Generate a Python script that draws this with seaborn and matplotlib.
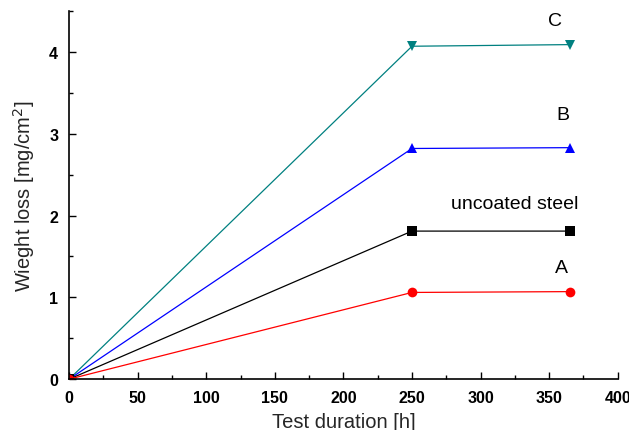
import matplotlib
matplotlib.use("Agg")
import matplotlib.pyplot as plt
import seaborn as sns
import pandas as pd
from matplotlib.ticker import MultipleLocator

hours = [0, 250, 365]
series_names = ["C", "B", "uncoated steel", "A"]
loss_C = [0.0, 4.07, 4.09]
loss_B = [0.0, 2.82, 2.83]
loss_uncoated = [0.0, 1.81, 1.81]
loss_A = [0.0, 1.06, 1.07]
colors = ["#008080", "#0000ff", "#000000", "#ff0000"]
markers = ["v", "^", "s", "o"]

sns.set_style("ticks")
plt.rcParams['font.family'] = ['Liberation Sans', 'DejaVu Sans']

df = pd.DataFrame({
    "hours": hours * 4,
    "loss": loss_C + loss_B + loss_uncoated + loss_A,
    "series": [n for n in series_names for _ in hours],
})

fig = plt.figure(figsize=(6.29, 4.31), dpi=100)
ax = fig.add_axes([0.110, 0.118, 0.872, 0.854])

sns.lineplot(data=df, x="hours", y="loss", hue="series", style="series",
             hue_order=series_names, style_order=series_names,
             palette=dict(zip(series_names, colors)),
             markers=dict(zip(series_names, markers)), dashes=False,
             markersize=7, markeredgewidth=0, linewidth=0.9, legend=False, ax=ax)

labels = {"C": (354, 4.39), "B": (360, 3.23), "uncoated steel": (325, 2.15), "A": (359, 1.37)}
for name, (lx, ly) in labels.items():
    ax.text(lx, ly, name, fontsize=14, ha="center", va="center", color="black")

ax.set_xlim(0, 400)
ax.set_ylim(0, 4.5)
ax.xaxis.set_major_locator(MultipleLocator(50))
ax.xaxis.set_minor_locator(MultipleLocator(25))
ax.yaxis.set_major_locator(MultipleLocator(1))
ax.yaxis.set_minor_locator(MultipleLocator(0.5))
ax.tick_params(which="both", direction="in", width=1, colors="black")
ax.tick_params(which="major", length=5, labelsize=11.5)
ax.tick_params(axis="x", which="major", pad=8)
ax.tick_params(axis="y", which="major", pad=8)
ax.tick_params(which="minor", length=3)
for lbl in ax.get_xticklabels() + ax.get_yticklabels():
    lbl.set_fontweight("bold")
sns.despine(ax=ax)
for s in ["left", "bottom"]:
    ax.spines[s].set_linewidth(1.2)
    ax.spines[s].set_color("black")
ax.set_xlabel("Test duration [h]", fontsize=14.5, labelpad=5)
ax.set_ylabel("Wieght loss [mg/cm$^2$]", fontsize=14.5, labelpad=9)

fig.savefig("out.png", dpi=100)
